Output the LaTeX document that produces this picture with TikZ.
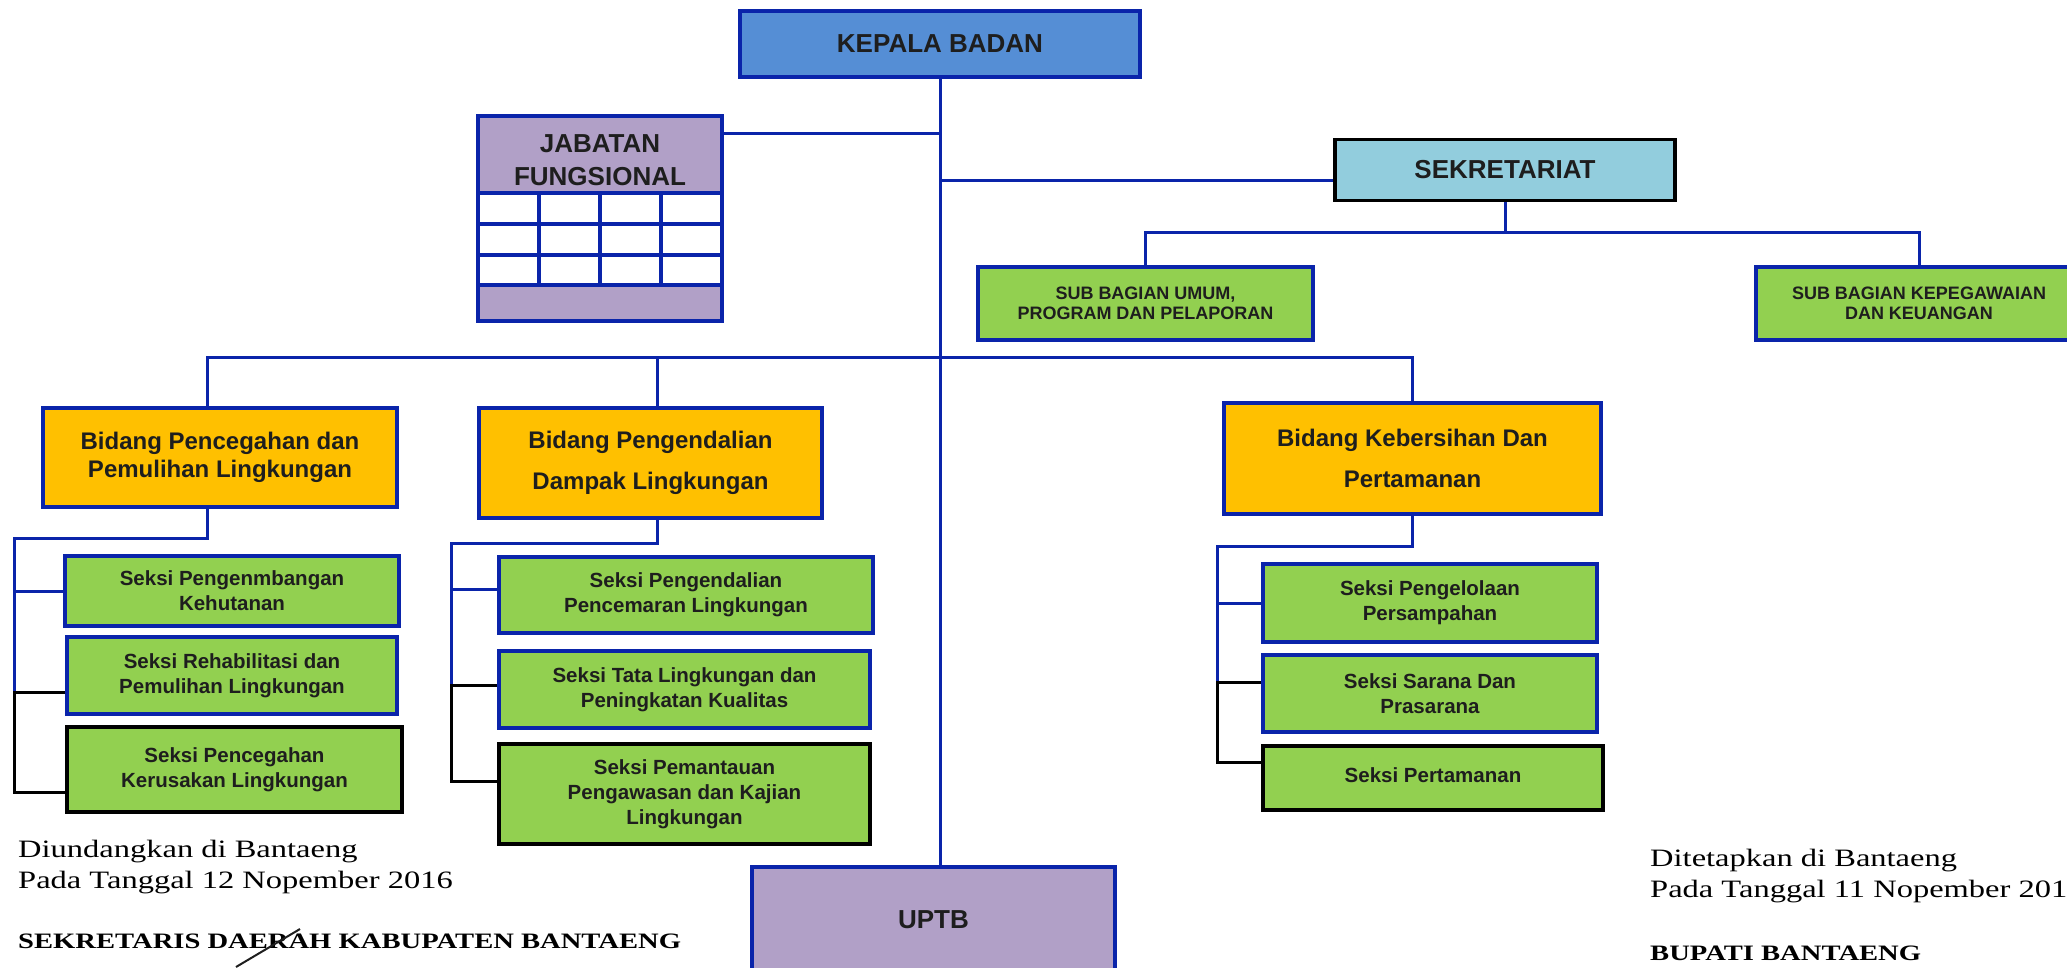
\documentclass[tikz,border=0pt]{standalone}
\usepackage{fontspec}
\setmainfont{Liberation Serif}
\newfontfamily\arial{Liberation Sans}
\newfontfamily\bookman[FakeStretch=1.3]{Liberation Serif}
\usetikzlibrary{positioning}
\definecolor{lineBlue}{RGB}{10,36,170}
\definecolor{headBlue}{RGB}{85,142,213}
\definecolor{lilac}{RGB}{177,160,199}
\definecolor{skyBlue}{RGB}{146,205,221}
\definecolor{leafGreen}{RGB}{146,208,80}
\definecolor{amber}{RGB}{255,192,0}
\definecolor{inkBlack}{RGB}{30,30,30}

\tikzset{
    box/.style={draw=lineBlue, line width=3.5pt, align=center, inner sep=0pt, text=inkBlack},
    boxBlack/.style={box, draw=black},
    head/.style={font=\arial\bfseries\fontsize{26}{33}\selectfont},
    bidang/.style={box, fill=amber, font=\arial\bfseries\fontsize{24}{41}\selectfont},
    seksi/.style={box, fill=leafGreen, font=\arial\bfseries\fontsize{20.5}{25}\selectfont},
    subbag/.style={box, fill=leafGreen, font=\arial\bfseries\fontsize{18}{19.5}\selectfont},
    conn/.style={draw=lineBlue, line width=3pt},
    connBlack/.style={draw=black, line width=3pt},
    cell/.style={draw=lineBlue, line width=3.5pt},
    serif/.style={anchor=base west, inner sep=0pt, text=black, font=\bookman\fontsize{25}{30}\selectfont},
    serifBold/.style={anchor=base west, inner sep=0pt, text=black, font=\bookman\bfseries\fontsize{22}{26}\selectfont},
}

\begin{document}
\begin{tikzpicture}[x=1pt, y=-1pt]
    \fill[white] (0,0) rectangle (2067,967);
    \useasboundingbox (0,0) rectangle (2067,967);

    % pimpinan
    \node[box, head, fill=headBlue, minimum width=400pt, minimum height=66pt] (kepala) at (940,44) {KEPALA BADAN};
    \node[box, head, fill=lilac, minimum width=244pt, minimum height=77pt] (jabatan) at (600,154.5) {\rule{0pt}{29pt}JABATAN\\FUNGSIONAL};
    \node[boxBlack, head, fill=skyBlue, minimum width=340pt, minimum height=61pt] (sekretariat) at (1505,170) {SEKRETARIAT};
    \node[box, head, fill=lilac, minimum width=363pt, minimum height=105pt] (uptb) at (933.5,919.5) {UPTB};

    % tabel jabatan fungsional
    \draw[cell, fill=white] (478,193) rectangle (722,285);
    \draw[cell, fill=lilac] (478,285) rectangle (722,321);
    \foreach \gx in {539,600,661}
        \draw[cell] (\gx,193) -- (\gx,285);
    \foreach \gy in {224,255}
        \draw[cell] (478,\gy) -- (722,\gy);

    % sekretariat
    \node[subbag, minimum width=335pt, minimum height=73pt] (umum) at (1145.5,303.5) {SUB BAGIAN UMUM,\\PROGRAM DAN PELAPORAN};
    \node[subbag, minimum width=326pt, minimum height=73pt] (kepeg) at (1919,303.5) {SUB BAGIAN KEPEGAWAIAN\\DAN KEUANGAN};

    % bidang
    \node[bidang, minimum width=354pt, minimum height=99pt, font=\arial\bfseries\fontsize{24}{28}\selectfont] (b1) at (220,457.5) {Bidang Pencegahan dan\\Pemulihan Lingkungan};
    \node[bidang, minimum width=343pt, minimum height=110pt] (b2) at (650.5,463) {Bidang Pengendalian\\Dampak Lingkungan};
    \node[bidang, minimum width=377pt, minimum height=111pt] (b3) at (1412.5,458.5) {Bidang Kebersihan Dan\\Pertamanan};

    % seksi
    \node[seksi, minimum width=334pt, minimum height=70pt] (s11) at (232,591) {Seksi Pengenmbangan\\Kehutanan};
    \node[seksi, minimum width=330pt, minimum height=77pt] (s12) at (232,675.5) {Seksi Rehabilitasi dan\\Pemulihan Lingkungan};
    \node[seksi, draw=black, minimum width=335pt, minimum height=85pt] (s13) at (234.5,769.5) {Seksi Pencegahan\\Kerusakan Lingkungan};

    \node[seksi, minimum width=374pt, minimum height=76pt] (s21) at (686,595) {Seksi Pengendalian\\Pencemaran Lingkungan};
    \node[seksi, minimum width=371pt, minimum height=77pt] (s22) at (684.5,689.5) {Seksi Tata Lingkungan dan\\Peningkatan Kualitas};
    \node[seksi, draw=black, minimum width=371pt, minimum height=100pt] (s23) at (684.5,794) {Seksi Pemantauan\\Pengawasan dan Kajian\\Lingkungan};

    \node[seksi, minimum width=334pt, minimum height=78pt] (s31) at (1430,603) {Seksi Pengelolaan\\Persampahan};
    \node[seksi, minimum width=334pt, minimum height=77pt] (s32) at (1430,693.5) {Seksi Sarana Dan\\Prasarana};
    \node[seksi, draw=black, minimum width=340pt, minimum height=64pt] (s33) at (1433,778) {\raisebox{6pt}{Seksi Pertamanan}};

    % garis utama
    \coordinate (jf) at ([yshift=21.5pt]jabatan.east);
    \coordinate (sk) at ([yshift=-10pt]sekretariat.west);
    \coordinate (busLine) at (0,357);
    \draw[conn] (kepala.south) -- (kepala.south |- uptb.north);
    \draw[conn] (jf) -- (kepala.south |- jf);
    \draw[conn] (kepala.south |- sk) -- (sk);
    \draw[conn] (sekretariat.south) -- ([yshift=-30pt]sekretariat.south);
    \draw[conn] (umum.north) |- ([yshift=-30pt]sekretariat.south) -| (kepeg.north);
    \draw[conn] ([xshift=-13pt]b1.north) -- ([xshift=-13pt]b1.north |- busLine) -- (b3.north |- busLine) -- (b3.north);
    \draw[conn] ([xshift=7pt]b2.north) -- ([xshift=7pt]b2.north |- busLine);

    % seksi bidang 1
    \coordinate (rail1) at (14,0);
    \coordinate (s12w) at ([yshift=-16.5pt]s12.west);
    \coordinate (s13w) at ([yshift=-22.5pt]s13.west);
    \draw[conn] ([xshift=-13pt]b1.south) -- ++(0,30) -| (rail1 |- s12w);
    \draw[conn] (rail1 |- s11.west) -- (s11.west);
    \draw[connBlack] (s12w) -- (rail1 |- s12w) -- (rail1 |- s13w) -- (s13w);

    % seksi bidang 2
    \coordinate (rail2) at (451,0);
    \coordinate (s21w) at ([yshift=6pt]s21.west);
    \coordinate (s22w) at ([yshift=4.5pt]s22.west);
    \coordinate (s23w) at ([yshift=13pt]s23.west);
    \draw[conn] ([xshift=6.5pt]b2.south) -- ++(0,24) -| (rail2 |- s22w);
    \draw[conn] (rail2 |- s21w) -- (s21w);
    \draw[connBlack] (s22w) -- (rail2 |- s22w) -- (rail2 |- s23w) -- (s23w);

    % seksi bidang 3
    \coordinate (rail3) at (1217,0);
    \coordinate (s32w) at ([yshift=11.5pt]s32.west);
    \coordinate (s33w) at ([yshift=16pt]s33.west);
    \draw[conn] (b3.south) -- ++(0,31) -| (rail3 |- s32w);
    \draw[conn] (rail3 |- s31.west) -- (s31.west);
    \draw[connBlack] (s32w) -- (rail3 |- s32w) -- (rail3 |- s33w) -- (s33w);

    % pengesahan
    \node[serif] (diundang) at (18,857) {Diundangkan di Bantaeng};
    \node[serif] (tglKiri) at (18,888) {Pada Tanggal 12 Nopember 2016};
    \node[serifBold] (sekda) at (18,948) {SEKRETARIS DAERAH KABUPATEN BANTAENG};
    \draw[inkBlack, line width=2pt] (236,967) -- (300,929);

    \node[serif] (ditetapkan) at (1650,866) {Ditetapkan di Bantaeng};
    \node[serif] (tglKanan) at (1650,897) {Pada Tanggal 11 Nopember 2016};
    \node[serifBold] (bupati) at (1650,960) {BUPATI BANTAENG};
\end{tikzpicture}
\end{document}
